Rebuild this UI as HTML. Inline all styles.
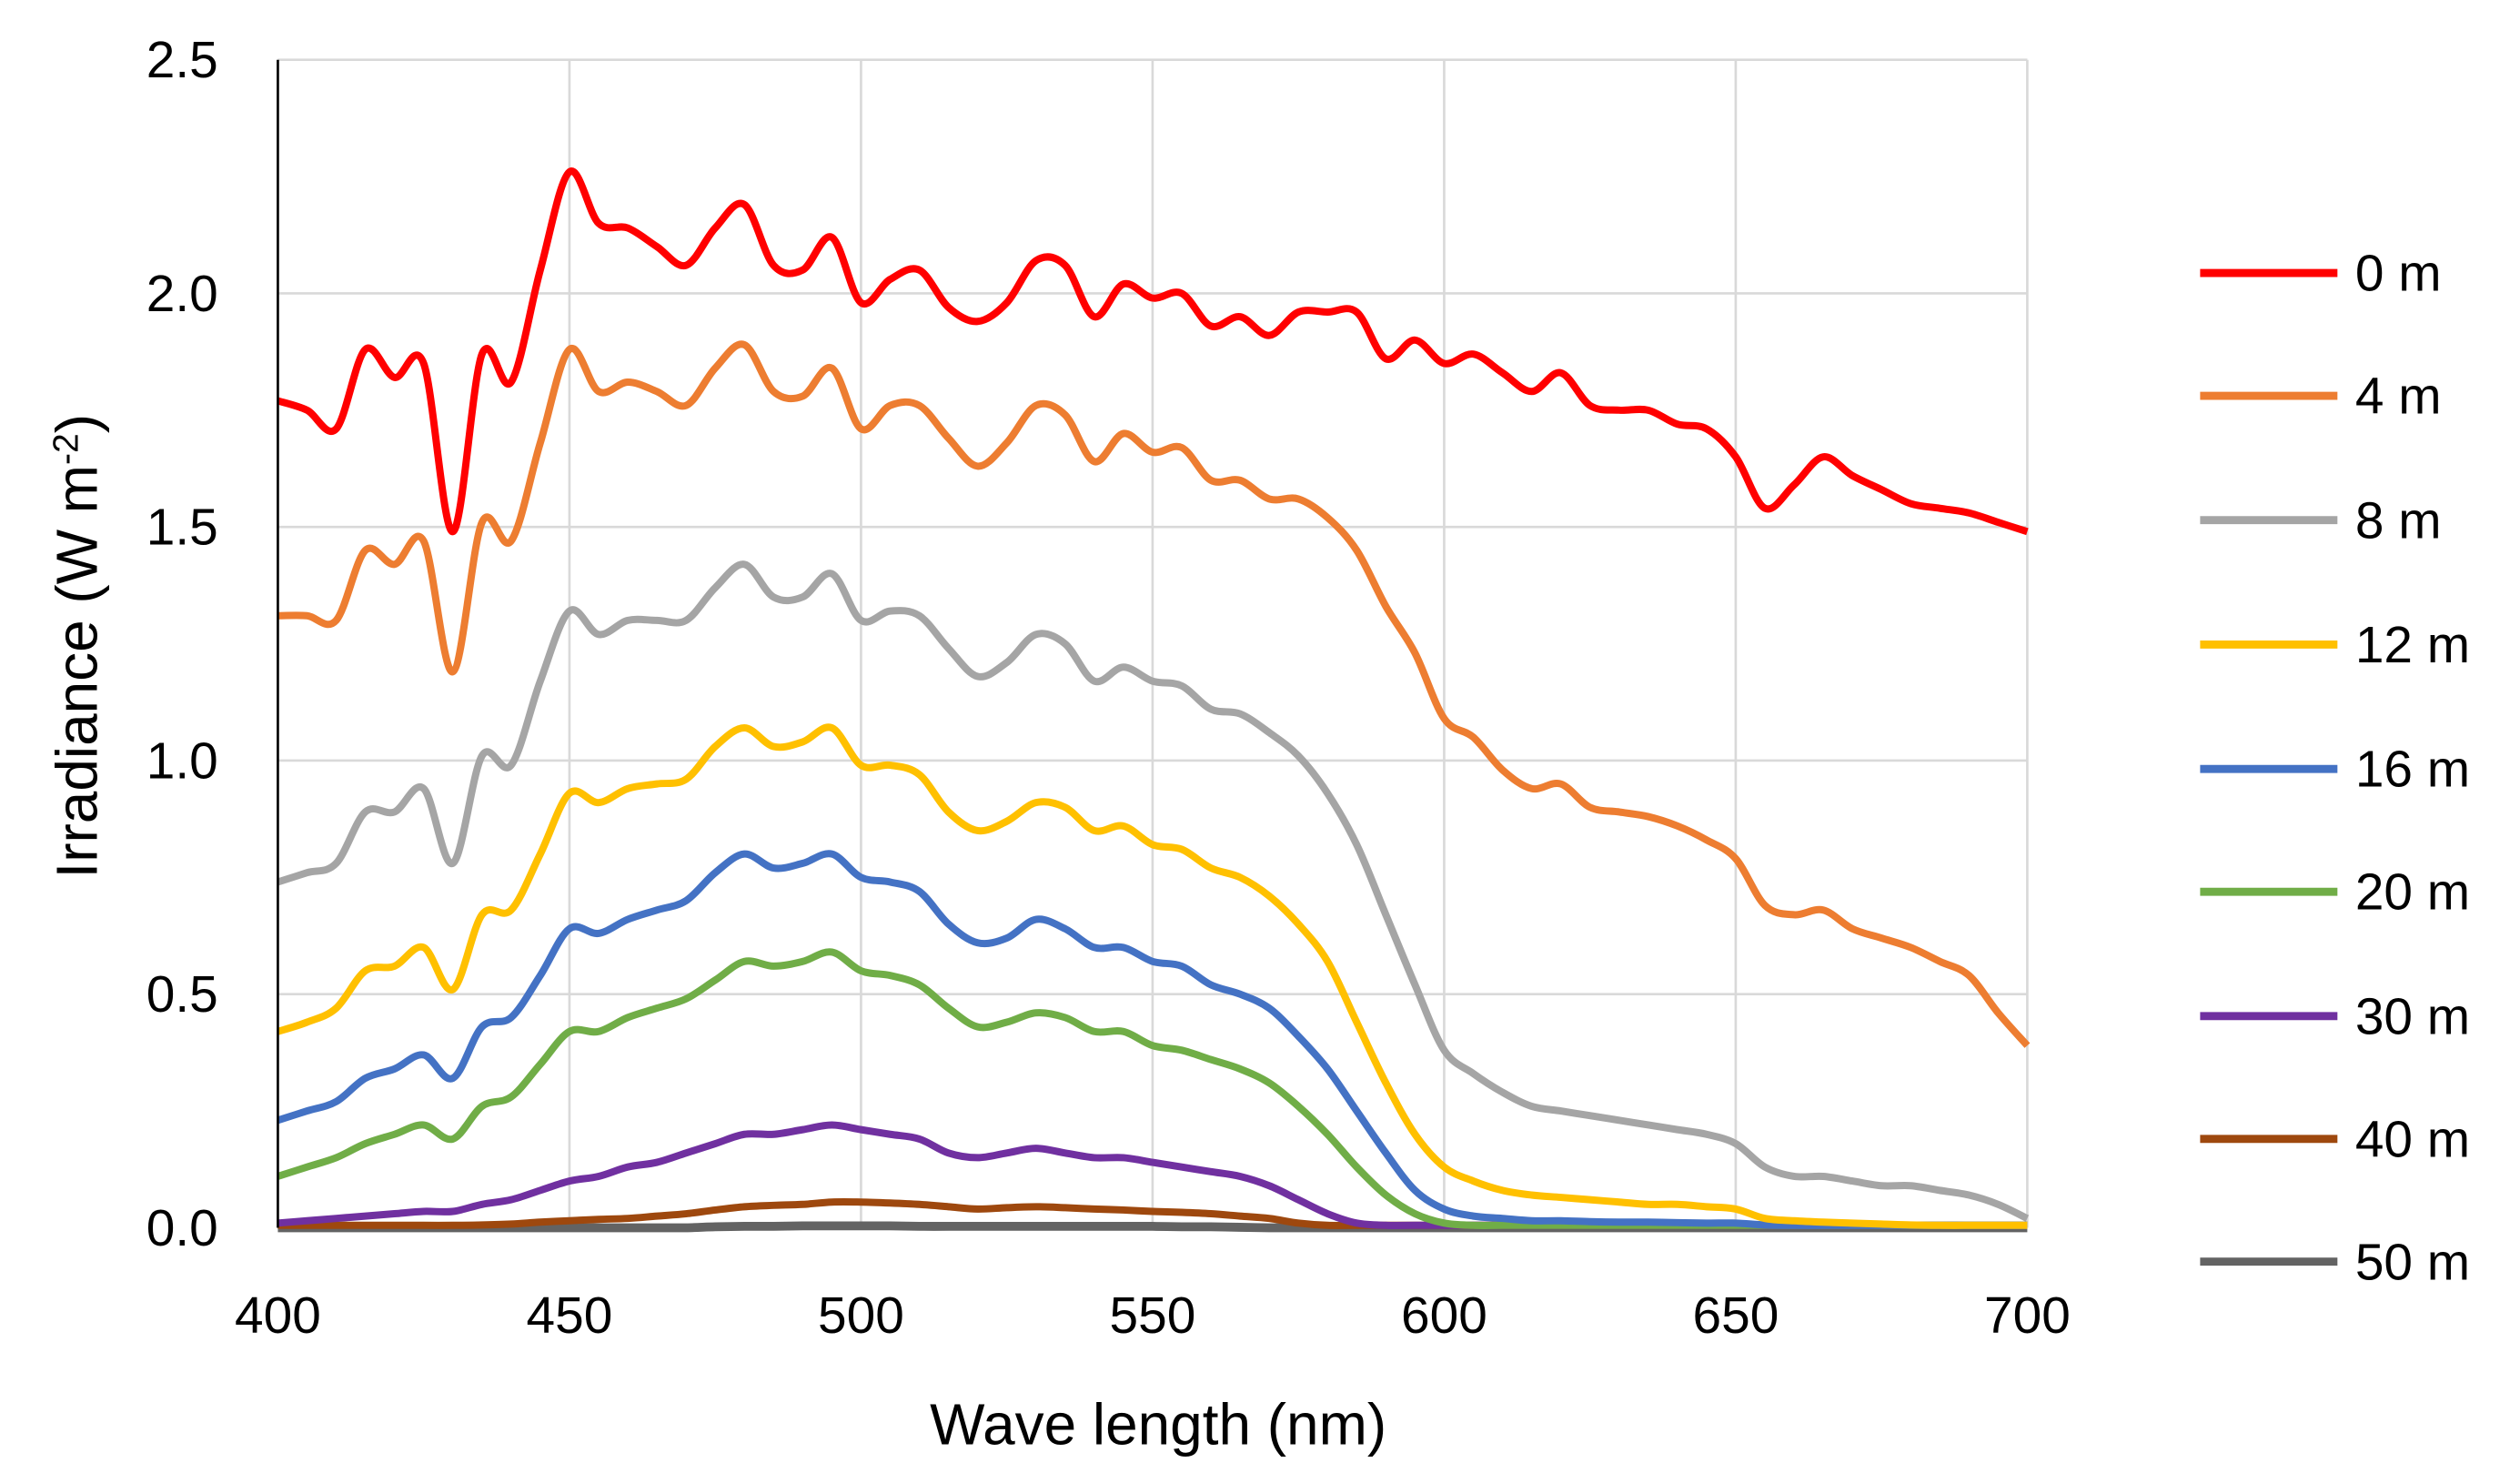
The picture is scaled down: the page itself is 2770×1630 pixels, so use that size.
<!DOCTYPE html>
<html><head><meta charset="utf-8">
<style>
html,body{margin:0;padding:0;background:#fff;}
svg{display:block;}
text{font-family:"Liberation Sans",sans-serif;fill:#000;}
</style></head>
<body>
<svg id="chart" width="2770" height="1630" viewBox="0 0 1560 918" xmlns="http://www.w3.org/2000/svg">
<rect x="0" y="0" width="1560" height="918" fill="#fff"/>
<g id="grid"></g>
<g id="series"></g>
<g id="axes"></g>
<g id="legend"></g>
<text x="717" y="894" font-size="36" text-anchor="middle">Wave length (nm)</text>
<text transform="translate(60,400) rotate(-90)" font-size="36" text-anchor="middle">Irradiance (W m<tspan font-size="22" dy="-12">-2</tspan><tspan dy="12">)</tspan></text>
</svg>
<script>
const wavelengths=[400,405,410,415,420,425,430,435,440,445,450,455,460,465,470,475,480,485,490,495,500,505,510,515,520,525,530,535,540,545,550,555,560,565,570,575,580,585,590,595,600,605,610,615,620,625,630,635,640,645,650,655,660,665,670,675,680,685,690,695,700];
const s0m=[1.77,1.75,1.71,1.88,1.82,1.85,1.49,1.87,1.81,2.05,2.26,2.15,2.14,2.10,2.06,2.14,2.19,2.06,2.05,2.12,1.98,2.03,2.05,1.97,1.94,1.98,2.07,2.06,1.95,2.02,1.99,2.00,1.93,1.95,1.91,1.96,1.96,1.96,1.86,1.90,1.85,1.87,1.83,1.79,1.83,1.76,1.75,1.75,1.72,1.71,1.65,1.54,1.59,1.65,1.61,1.58,1.55,1.54,1.53,1.51,1.49];
const s4m=[1.31,1.31,1.30,1.45,1.42,1.47,1.19,1.51,1.47,1.68,1.88,1.79,1.81,1.79,1.76,1.84,1.89,1.79,1.78,1.84,1.71,1.76,1.76,1.69,1.63,1.68,1.76,1.74,1.64,1.70,1.66,1.67,1.60,1.60,1.56,1.56,1.52,1.45,1.33,1.23,1.09,1.05,0.98,0.94,0.95,0.90,0.89,0.88,0.86,0.83,0.79,0.69,0.67,0.68,0.64,0.62,0.60,0.57,0.54,0.46,0.39];
const s8m=[0.74,0.76,0.78,0.89,0.89,0.94,0.78,1.01,0.99,1.17,1.32,1.27,1.30,1.30,1.30,1.37,1.42,1.35,1.35,1.40,1.30,1.32,1.31,1.24,1.18,1.21,1.27,1.25,1.17,1.20,1.17,1.16,1.11,1.10,1.06,1.01,0.93,0.82,0.67,0.52,0.38,0.33,0.29,0.26,0.25,0.24,0.23,0.22,0.21,0.20,0.18,0.13,0.11,0.11,0.10,0.09,0.09,0.08,0.07,0.05,0.02];
const s12m=[0.42,0.44,0.47,0.55,0.56,0.60,0.51,0.67,0.68,0.80,0.93,0.91,0.94,0.95,0.96,1.03,1.07,1.03,1.04,1.07,0.99,0.99,0.97,0.89,0.85,0.87,0.91,0.90,0.85,0.86,0.82,0.81,0.77,0.75,0.71,0.65,0.57,0.44,0.31,0.20,0.13,0.10,0.08,0.07,0.065,0.06,0.055,0.05,0.05,0.045,0.04,0.02,0.015,0.012,0.01,0.008,0.006,0.005,0.004,0.002,0.0];
const s16m=[0.23,0.25,0.27,0.32,0.34,0.37,0.32,0.43,0.45,0.54,0.64,0.63,0.66,0.68,0.70,0.76,0.80,0.77,0.78,0.80,0.75,0.74,0.72,0.65,0.61,0.62,0.66,0.64,0.60,0.60,0.57,0.56,0.52,0.50,0.47,0.41,0.34,0.25,0.16,0.08,0.04,0.025,0.02,0.015,0.015,0.013,0.012,0.012,0.011,0.01,0.01,0.006,0.005,0.004,0.003,0.002,0.002,0.001,0.001,0.0,0.0];
const s20m=[0.11,0.13,0.15,0.18,0.20,0.22,0.19,0.26,0.28,0.35,0.42,0.42,0.45,0.47,0.49,0.53,0.57,0.56,0.57,0.59,0.55,0.54,0.52,0.47,0.43,0.44,0.46,0.45,0.42,0.42,0.39,0.38,0.36,0.34,0.31,0.26,0.20,0.13,0.07,0.03,0.01,0.005,0,0,0,0,0,0,0,0,0,0,0,0,0,0,0,0,0,0,0];
const s30m=[0.01,0.015,0.02,0.025,0.03,0.035,0.035,0.05,0.06,0.08,0.10,0.11,0.13,0.14,0.16,0.18,0.20,0.20,0.21,0.22,0.21,0.20,0.19,0.16,0.15,0.16,0.17,0.16,0.15,0.15,0.14,0.13,0.12,0.11,0.09,0.06,0.03,0.01,0.0,0,0,0,0,0,0,0,0,0,0,0,0,0,0,0,0,0,0,0,0,0,0];
const s40m=[0,0,0,0.002,0.003,0.004,0.005,0.006,0.008,0.012,0.015,0.018,0.02,0.025,0.03,0.038,0.045,0.048,0.05,0.055,0.055,0.053,0.05,0.045,0.04,0.043,0.045,0.043,0.04,0.038,0.035,0.033,0.03,0.025,0.02,0.01,0.003,0,0,0,0,0,0,0,0,0,0,0,0,0,0,0,0,0,0,0,0,0,0,0,0];
const s50m=[0,0,0,0,0,0,0,0,0,0,0,0,0,0,0,0.002,0.003,0.003,0.004,0.004,0.004,0.004,0.003,0.003,0.003,0.003,0.003,0.003,0.003,0.003,0.003,0.002,0.002,0.001,0,0,0,0,0,0,0,0,0,0,0,0,0,0,0,0,0,0,0,0,0,0,0,0,0,0,0];
const seriesNames=["0 m","4 m","8 m","12 m","16 m","20 m","30 m","40 m","50 m"];
const seriesValues=[s0m,s4m,s8m,s12m,s16m,s20m,s30m,s40m,s50m];
const seriesColors=["#FF0000","#ED7D31","#A5A5A5","#FFC000","#4472C4","#70AD47","#7030A0","#9E480E","#636363"];
const xTicks=[400,450,500,550,600,650,700];
const yTicks=[0,0.5,1.0,1.5,2.0,2.5];

const NS="http://www.w3.org/2000/svg";
const L=172,R=1255,T=37,B=760;
const xScale=v=>L+(v-400)/300*(R-L);
const yScale=v=>B-v/2.5*(B-T);
function mk(tag,attrs,parent){const e=document.createElementNS(NS,tag);for(const k in attrs)e.setAttribute(k,attrs[k]);parent.appendChild(e);return e;}
const grid=document.getElementById('grid'),axes=document.getElementById('axes'),ser=document.getElementById('series'),leg=document.getElementById('legend');
yTicks.forEach(t=>{
  if(t>0){const g=mk('line',{x1:L,x2:R,y1:yScale(t),y2:yScale(t),stroke:'#D9D9D9','stroke-width':1.5},grid);
  
  }
  const tx=mk('text',{x:135,y:yScale(t)+11,'font-size':32,'text-anchor':'end'},axes);tx.textContent=t.toFixed(1);
  
  
});
xTicks.forEach(t=>{
  if(t>400){const g=mk('line',{x1:xScale(t),x2:xScale(t),y1:T,y2:B,stroke:'#D9D9D9','stroke-width':1.5},grid);
  
  }
  const tx=mk('text',{x:xScale(t),y:825,'font-size':32,'text-anchor':'middle'},axes);tx.textContent=t;
  
  
});
const ya=mk('line',{x1:L,x2:L,y1:T,y2:B,stroke:'#000','stroke-width':1.5},axes);


function smoothPath(pts){
  let d='M'+pts[0][0]+','+pts[0][1];
  for(let i=0;i<pts.length-1;i++){
    const p0=pts[Math.max(0,i-1)],p1=pts[i],p2=pts[i+1],p3=pts[Math.min(pts.length-1,i+2)];
    const c1x=p1[0]+(p2[0]-p0[0])/6,c1y=p1[1]+(p2[1]-p0[1])/6;
    const c2x=p2[0]-(p3[0]-p1[0])/6,c2y=p2[1]-(p3[1]-p1[1])/6;
    d+=' C'+c1x.toFixed(2)+','+c1y.toFixed(2)+' '+c2x.toFixed(2)+','+c2y.toFixed(2)+' '+p2[0].toFixed(2)+','+p2[1].toFixed(2);
  }
  return d;
}
for(let s=seriesValues.length-1;s>=0;s--){
  const off=(s===8)?0:1.5;
  const pts=wavelengths.map((w,i)=>[xScale(w),Math.min(yScale(seriesValues[s][i]),B-off)]);
  const p=mk('path',{d:smoothPath(pts),fill:'none',stroke:seriesColors[s],'stroke-width':(s===8?5.5:4.5),'stroke-linejoin':'round','stroke-linecap':'butt'},ser);
  
  
}
const legY=[169,245,322,399,476,552,629,705,781];
seriesNames.forEach((n,i)=>{
  const g=mk('g',{},leg);
  
  
  mk('line',{x1:1362,x2:1447,y1:legY[i],y2:legY[i],stroke:seriesColors[i],'stroke-width':5},g);
  const t=mk('text',{x:1458,y:legY[i]+11,'font-size':32},g);t.textContent=n;
});
</script>
</body></html>
